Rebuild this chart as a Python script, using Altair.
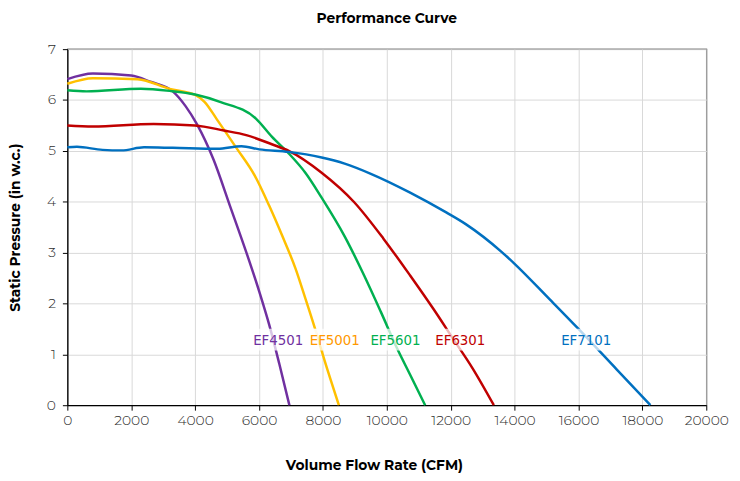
import altair as alt
import pandas as pd

models = ["EF4501", "EF5001", "EF5601", "EF6301", "EF7101"]
line_colors = ["#7030A0", "#FFC000", "#00B050", "#C00000", "#0070C0"]
label_colors = ["#7030A0", "#FF9900", "#00B050", "#C00000", "#0070C0"]

ef4501_x = [0, 800, 2000, 2600, 3300, 3700, 4060, 4575, 5090, 5600, 6010, 6320, 6640, 6950]
ef4501_y = [6.41, 6.52, 6.48, 6.36, 6.17, 5.88, 5.52, 4.83, 3.92, 3.01, 2.23, 1.58, 0.80, 0]

ef5001_x = [0, 800, 2200, 3200, 4000, 4300, 4680, 5290, 5870, 6320, 6720, 7140, 7450, 7750, 8060, 8500]
ef5001_y = [6.32, 6.43, 6.41, 6.22, 6.10, 5.96, 5.62, 5.06, 4.51, 3.92, 3.34, 2.69, 2.10, 1.51, 0.86, 0]

ef5601_x = [0, 600, 2300, 3200, 4000, 4800, 5910, 6400, 6930, 7450, 7960, 8680, 9290, 9810, 10320, 10730, 11200]
ef5601_y = [6.19, 6.17, 6.22, 6.18, 6.11, 5.96, 5.63, 5.28, 4.95, 4.57, 4.08, 3.32, 2.55, 1.84, 1.12, 0.60, 0]

ef6301_x = [0, 800, 2700, 4000, 4900, 5600, 6400, 6930, 7960, 8980, 9900, 10730, 11450, 12060, 12680, 13350]
ef6301_y = [5.50, 5.48, 5.53, 5.50, 5.40, 5.31, 5.13, 5.00, 4.57, 3.99, 3.27, 2.55, 1.90, 1.32, 0.73, 0]

ef7101_x = [0, 300, 1100, 1700, 2400, 3300, 4700, 5450, 6010, 6930, 7960, 8680, 9500, 10730,
            11860, 12470, 13600, 14000, 15100, 16000, 17200, 18250]
ef7101_y = [5.07, 5.08, 5.02, 5.01, 5.07, 5.06, 5.04, 5.09, 5.03, 4.98, 4.87, 4.75, 4.55, 4.18,
            3.79, 3.56, 3.01, 2.78, 2.08, 1.50, 0.70, 0]

label_x = [6600, 8370, 10270, 12300, 16240]
label_y = [1.29, 1.29, 1.29, 1.29, 1.29]

x_ticks = [0, 2000, 4000, 6000, 8000, 10000, 12000, 14000, 16000, 18000, 20000]
y_ticks = [0, 1, 2, 3, 4, 5, 6, 7]

series = [(models[0], ef4501_x, ef4501_y), (models[1], ef5001_x, ef5001_y),
          (models[2], ef5601_x, ef5601_y), (models[3], ef6301_x, ef6301_y),
          (models[4], ef7101_x, ef7101_y)]
rows = []
for m, xs, ys in series:
    for i, (xv, yv) in enumerate(zip(xs, ys)):
        rows.append({"model": m, "cfm": xv, "sp": yv, "idx": i})
df = pd.DataFrame(rows)
labels = pd.DataFrame({"model": models, "cfm": label_x, "sp": label_y, "lc": label_colors})

FONT = "Montserrat, Inter, 'Open Sans', sans-serif"
LABEL_FONT = "'DejaVu Sans Condensed', 'Liberation Sans Narrow', 'Noto Sans', sans-serif"
xscale = alt.Scale(domain=[0, 20000], nice=False, zero=False)
yscale = alt.Scale(domain=[0, 7], nice=False)

xaxis = alt.Axis(values=x_ticks, format="d", title="Volume Flow Rate (CFM)",
                 labelOverlap=False, labelFlush=False, labelBound=False,
                 titleX=310, titleY=61, titleAlign="center", titleBaseline="middle")
yaxis = alt.Axis(values=y_ticks, format="d", title="Static Pressure (in w.c.)",
                 labelOverlap=False, labelFlush=False,
                 titleX=-52, titleY=180, titleAlign="center", titleBaseline="middle", titleAngle=-90)

lines = alt.Chart(df).mark_line(strokeWidth=2.5, interpolate="monotone").encode(
    x=alt.X("cfm:Q", scale=xscale, axis=xaxis),
    y=alt.Y("sp:Q", scale=yscale, axis=yaxis),
    color=alt.Color("model:N", scale=alt.Scale(domain=models, range=line_colors), legend=None),
    order="idx:Q",
    detail="model:N",
)

boxes = alt.Chart(labels).mark_point(
    shape="M-1,-0.275L1,-0.275L1,0.275L-1,0.275Z", size=6400, filled=True,
    fill="white", opacity=0.72, strokeWidth=0,
).encode(x=alt.X("cfm:Q", scale=xscale), y=alt.Y("sp:Q", scale=yscale))

texts = alt.Chart(labels).mark_text(
    font=LABEL_FONT, fontSize=15, align="center", baseline="middle",
).encode(
    x=alt.X("cfm:Q", scale=xscale), y=alt.Y("sp:Q", scale=yscale),
    text="model:N", color=alt.Color("lc:N", scale=None),
)

chart = alt.layer(lines, boxes, texts).properties(
    width=646, height=360,
    autosize=alt.AutoSizeParams(type="none"),
    padding={"left": 60, "top": 39, "right": 26, "bottom": 72},
    title=alt.TitleParams("Performance Curve", font=FONT, fontSize=14, fontWeight="bold",
                          color="#000", anchor="middle", offset=16),
).configure_view(stroke="#000", strokeWidth=1.2).configure_axis(
    grid=True, gridColor="#D9D9D9", gridWidth=1,
    domainColor="#000", domainWidth=1.2, tickColor="#000", tickSize=5,
    labelFont=FONT, labelFontSize=14, labelFontWeight=300, labelColor="#303030",
    titleFont=FONT, titleFontSize=14, titleFontWeight="bold", titleColor="#000",
).configure_axisY(labelPadding=7).configure_axisX(labelPadding=4)

chart.save("out.html", embed_options={"renderer": "svg", "actions": False})
